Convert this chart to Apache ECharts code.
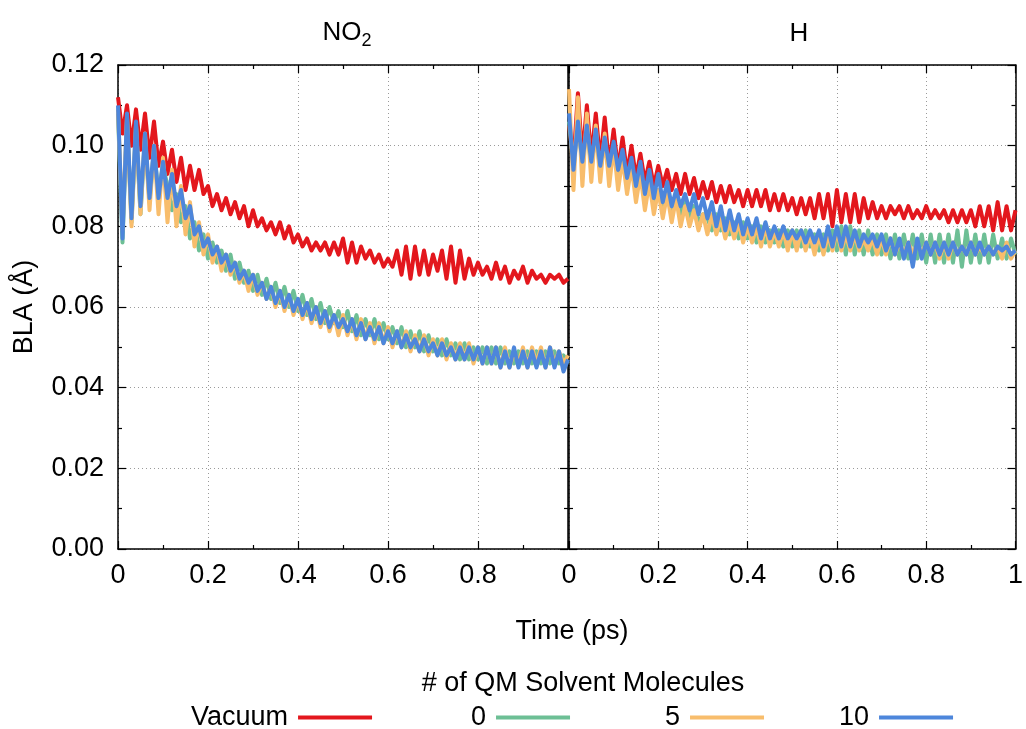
<!DOCTYPE html>
<html><head><meta charset="utf-8">
<script src="https://cdn.jsdelivr.net/npm/echarts@6/dist/echarts.min.js"></script>
<style>html,body{margin:0;padding:0;background:#fff}#c{width:1026px;height:729px}</style>
</head><body><div id="c"></div>
<script>
// ---- Data (BLA in Å, sampled every 0.01 ps from 0 to 1 ps) ----
const panelTitles = ['NO2', 'H'];
const seriesNames = ['Vacuum', '0', '5', '10'];
const seriesColors = ['#e3171d', '#6dbf95', '#f8bd6c', '#4d86db'];
const yTickValues = [0, 0.02, 0.04, 0.06, 0.08, 0.10, 0.12];
const xTickValues = [0, 0.2, 0.4, 0.6, 0.8, 1];

const vacuumNO2 = [
0.112,0.103,0.110,0.100,0.109,0.099,0.108,0.097,0.106,0.095,
0.101,0.093,0.099,0.091,0.097,0.089,0.095,0.089,0.094,0.088,
0.090,0.085,0.088,0.084,0.087,0.083,0.086,0.082,0.085,0.080,
0.084,0.080,0.082,0.079,0.081,0.078,0.081,0.077,0.080,0.076,
0.078,0.075,0.077,0.074,0.076,0.074,0.076,0.073,0.076,0.073,
0.077,0.071,0.076,0.071,0.075,0.072,0.074,0.071,0.073,0.070,
0.072,0.070,0.074,0.068,0.075,0.067,0.075,0.068,0.074,0.068,
0.073,0.069,0.074,0.067,0.075,0.066,0.074,0.067,0.072,0.068,
0.071,0.068,0.070,0.067,0.071,0.067,0.070,0.066,0.069,0.067,
0.070,0.066,0.069,0.067,0.068,0.066,0.068,0.067,0.068,0.066,
0.067];
const qm0NO2 = [
0.108,0.076,0.107,0.081,0.105,0.083,0.102,0.086,0.099,0.088,
0.095,0.090,0.084,0.088,0.081,0.085,0.077,0.081,0.074,0.078,
0.072,0.076,0.071,0.074,0.069,0.073,0.067,0.071,0.066,0.069,
0.064,0.068,0.063,0.067,0.062,0.066,0.061,0.065,0.060,0.064,
0.059,0.063,0.058,0.062,0.057,0.061,0.056,0.060,0.056,0.059,
0.055,0.059,0.054,0.058,0.053,0.057,0.053,0.057,0.052,0.056,
0.052,0.055,0.051,0.055,0.050,0.054,0.050,0.054,0.049,0.053,
0.049,0.052,0.048,0.052,0.048,0.051,0.047,0.051,0.047,0.050,
0.047,0.050,0.046,0.050,0.046,0.050,0.046,0.049,0.046,0.049,
0.046,0.049,0.046,0.049,0.046,0.049,0.046,0.049,0.046,0.048,
0.046];
const qm5NO2 = [
0.109,0.079,0.107,0.080,0.105,0.083,0.103,0.084,0.100,0.083,
0.097,0.081,0.094,0.080,0.090,0.078,0.086,0.075,0.081,0.073,
0.078,0.071,0.075,0.069,0.073,0.068,0.071,0.066,0.069,0.064,
0.068,0.063,0.066,0.062,0.065,0.060,0.064,0.059,0.063,0.058,
0.062,0.057,0.061,0.056,0.060,0.055,0.059,0.054,0.058,0.053,
0.058,0.053,0.057,0.052,0.057,0.052,0.056,0.051,0.056,0.051,
0.055,0.050,0.054,0.050,0.054,0.049,0.053,0.049,0.053,0.048,
0.052,0.048,0.052,0.047,0.051,0.047,0.051,0.047,0.051,0.046,
0.050,0.046,0.050,0.046,0.050,0.045,0.050,0.045,0.049,0.046,
0.050,0.045,0.050,0.046,0.050,0.045,0.050,0.046,0.049,0.046,
0.048];
const qm10NO2 = [
0.110,0.077,0.108,0.082,0.106,0.085,0.103,0.087,0.100,0.087,
0.096,0.087,0.093,0.085,0.089,0.082,0.085,0.078,0.080,0.075,
0.077,0.073,0.075,0.071,0.073,0.069,0.071,0.067,0.069,0.066,
0.068,0.064,0.066,0.062,0.065,0.061,0.064,0.060,0.063,0.059,
0.062,0.058,0.061,0.057,0.060,0.056,0.059,0.055,0.058,0.055,
0.057,0.054,0.057,0.053,0.056,0.052,0.055,0.052,0.055,0.051,
0.054,0.051,0.054,0.050,0.053,0.050,0.052,0.049,0.052,0.049,
0.051,0.048,0.051,0.048,0.050,0.047,0.050,0.047,0.050,0.047,
0.050,0.046,0.050,0.046,0.050,0.045,0.049,0.045,0.050,0.045,
0.049,0.045,0.049,0.045,0.049,0.045,0.050,0.045,0.049,0.044,
0.047];

const vacuumH = [
0.105,0.096,0.113,0.097,0.110,0.097,0.108,0.096,0.107,0.095,
0.104,0.094,0.102,0.093,0.100,0.092,0.098,0.091,0.096,0.090,
0.095,0.090,0.094,0.089,0.093,0.088,0.093,0.088,0.092,0.087,
0.091,0.087,0.091,0.086,0.090,0.086,0.090,0.086,0.089,0.085,
0.089,0.085,0.089,0.085,0.089,0.084,0.088,0.084,0.088,0.084,
0.087,0.083,0.087,0.083,0.087,0.082,0.088,0.082,0.088,0.080,
0.089,0.081,0.088,0.081,0.088,0.081,0.087,0.082,0.086,0.082,
0.085,0.082,0.085,0.083,0.085,0.082,0.085,0.082,0.084,0.082,
0.085,0.082,0.084,0.082,0.084,0.081,0.084,0.081,0.084,0.081,
0.084,0.080,0.085,0.080,0.085,0.079,0.086,0.079,0.085,0.079,
0.084];
const qm0H = [
0.106,0.095,0.105,0.096,0.104,0.095,0.103,0.094,0.101,0.093,
0.099,0.092,0.097,0.091,0.095,0.089,0.093,0.087,0.091,0.086,
0.089,0.085,0.088,0.084,0.087,0.083,0.086,0.082,0.085,0.081,
0.083,0.082,0.079,0.083,0.079,0.082,0.078,0.081,0.077,0.081,
0.077,0.080,0.076,0.080,0.076,0.079,0.076,0.079,0.075,0.079,
0.075,0.079,0.075,0.079,0.075,0.078,0.074,0.078,0.074,0.079,
0.074,0.080,0.073,0.080,0.073,0.079,0.073,0.079,0.073,0.078,
0.073,0.078,0.072,0.078,0.072,0.078,0.072,0.078,0.072,0.078,
0.071,0.078,0.071,0.078,0.071,0.078,0.071,0.079,0.070,0.079,
0.071,0.078,0.071,0.078,0.071,0.078,0.072,0.077,0.072,0.077,
0.073];
const qm5H = [
0.114,0.089,0.112,0.090,0.108,0.091,0.105,0.091,0.103,0.090,
0.100,0.089,0.097,0.088,0.095,0.086,0.093,0.084,0.091,0.083,
0.089,0.082,0.088,0.081,0.087,0.080,0.085,0.080,0.084,0.079,
0.083,0.078,0.083,0.078,0.082,0.077,0.081,0.077,0.081,0.076,
0.080,0.076,0.080,0.075,0.080,0.075,0.079,0.075,0.079,0.074,
0.079,0.074,0.079,0.074,0.078,0.073,0.078,0.073,0.078,0.074,
0.079,0.074,0.078,0.074,0.078,0.074,0.077,0.074,0.077,0.073,
0.077,0.073,0.077,0.073,0.076,0.073,0.076,0.073,0.076,0.073,
0.076,0.073,0.076,0.072,0.076,0.072,0.076,0.073,0.075,0.073,
0.076,0.073,0.075,0.073,0.075,0.073,0.075,0.072,0.076,0.072,
0.074];
const qm10H = [
0.108,0.094,0.106,0.096,0.105,0.096,0.104,0.095,0.102,0.095,
0.101,0.094,0.099,0.092,0.097,0.090,0.096,0.088,0.094,0.087,
0.093,0.086,0.091,0.085,0.089,0.085,0.088,0.084,0.088,0.083,
0.087,0.082,0.086,0.080,0.085,0.079,0.084,0.079,0.083,0.078,
0.082,0.078,0.082,0.077,0.081,0.077,0.080,0.077,0.080,0.077,
0.079,0.077,0.079,0.076,0.079,0.076,0.079,0.075,0.080,0.075,
0.080,0.075,0.080,0.075,0.079,0.075,0.078,0.076,0.078,0.075,
0.078,0.074,0.077,0.073,0.077,0.072,0.076,0.070,0.077,0.072,
0.076,0.073,0.076,0.073,0.076,0.073,0.076,0.073,0.075,0.073,
0.076,0.073,0.076,0.073,0.075,0.073,0.075,0.074,0.075,0.073,
0.074];

const panelData = [
  [vacuumNO2, qm0NO2, qm5NO2, qm10NO2],
  [vacuumH, qm0H, qm5H, qm10H]
];
const timeStep = 0.01; // ps between samples

// ---- Chart ----
const FONT = "'Liberation Sans', Arial, Helvetica, sans-serif";
const FS = 27;
const chart = echarts.init(document.getElementById('c'), null, {renderer: 'canvas'});

function fmtX(panel) {
  return function (v) {
    if (Math.abs(v) < 1e-9) return '0';
    if (Math.abs(v - 1) < 1e-9) return panel === 0 ? '' : '1';
    return v.toFixed(1);
  };
}

const gridLine = {show: true, lineStyle: {color: '#9a9a9a', type: [1, 3], width: 1}};
const axisLineBlack = {show: true, onZero: false, lineStyle: {color: '#000', width: 1.5}};
const tickStyle = {show: true, inside: true, length: 8, lineStyle: {color: '#000', width: 1.2}};
const minorStyle = {show: true, splitNumber: 2, length: 4, lineStyle: {color: '#000', width: 1.2}};

const xAxes = [], yAxes = [];
[0, 1].forEach(p => {
  xAxes.push({
    gridIndex: p, type: 'value', min: xTickValues[0], max: xTickValues[xTickValues.length - 1], interval: 0.2,
    axisLine: axisLineBlack, axisTick: tickStyle, minorTick: minorStyle,
    splitLine: gridLine,
    axisLabel: {fontFamily: FONT, fontSize: FS, color: '#000', margin: 13, formatter: fmtX(p), showMaxLabel: true, showMinLabel: true}
  });
  xAxes.push({
    gridIndex: p, type: 'value', position: 'top', min: 0, max: 1, interval: 0.2,
    axisLine: axisLineBlack, axisTick: tickStyle, minorTick: minorStyle,
    splitLine: {show: false}, axisLabel: {show: false}
  });
  yAxes.push({
    gridIndex: p, type: 'value', min: yTickValues[0], max: yTickValues[yTickValues.length - 1], interval: 0.02,
    axisLine: axisLineBlack, axisTick: tickStyle, minorTick: minorStyle,
    splitLine: gridLine,
    axisLabel: p === 0 ? {fontFamily: FONT, fontSize: FS, color: '#000', margin: 14, formatter: v => v.toFixed(2)} : {show: false},
    name: p === 0 ? 'BLA (Å)' : '',
    nameLocation: 'middle', nameGap: 80,
    nameTextStyle: {fontFamily: FONT, fontSize: FS, color: '#000'}
  });
  yAxes.push({
    gridIndex: p, type: 'value', position: 'right', min: 0, max: 0.12, interval: 0.02,
    axisLine: axisLineBlack, axisTick: tickStyle, minorTick: minorStyle,
    splitLine: {show: false}, axisLabel: {show: false}
  });
});

const series = [];
[0, 1].forEach(p => {
  seriesNames.forEach((name, k) => {
    series.push({
      name: name, type: 'line', xAxisIndex: p * 2, yAxisIndex: p * 2,
      data: panelData[p][k].map((v, i) => [i * timeStep, v]),
      showSymbol: false, symbol: 'none', smooth: false,
      lineStyle: {color: seriesColors[k], width: 4, join: 'round'},
      itemStyle: {color: seriesColors[k]},
      z: 2 + k, animation: false, silent: true
    });
  });
});

const legendLefts = [186, 466, 660, 834];
const legends = seriesNames.map((name, k) => ({
  data: [name], left: legendLefts[k], top: 699, orient: 'horizontal', align: 'right',
  icon: 'rect', itemWidth: 74, itemHeight: 4, itemGap: 0,
  textStyle: {fontFamily: FONT, fontSize: FS, color: '#000', padding: [0, 5, 0, 0]},
  selectedMode: false
}));

const option = {
  backgroundColor: '#fff',
  animation: false,
  title: [
    {text: '{a|NO}{b|2}', left: 342, top: 10, textAlign: 'center',
     textStyle: {rich: {
       a: {fontFamily: FONT, fontSize: 26, fontWeight: 'normal', color: '#000'},
       b: {fontFamily: FONT, fontSize: 18, fontWeight: 'normal', color: '#000', padding: [17, 0, 0, 0]}}}},
    {text: 'H', left: 794, top: 16, textAlign: 'center', textStyle: {fontFamily: FONT, fontSize: 26, fontWeight: 'normal', color: '#000'}},
    {text: 'Time (ps)', left: 567, top: 613, textAlign: 'center', textStyle: {fontFamily: FONT, fontSize: FS, fontWeight: 'normal', color: '#000'}},
    {text: '# of QM Solvent Molecules', left: 578, top: 665, textAlign: 'center', textStyle: {fontFamily: FONT, fontSize: FS, fontWeight: 'normal', color: '#000'}}
  ],
  legend: legends,
  grid: [
    {left: 118, top: 65, width: 450, height: 484},
    {left: 569, top: 65, width: 449, height: 484}
  ],
  xAxis: xAxes,
  yAxis: yAxes,
  series: series
};
chart.setOption(option);
</script>
</body></html>
